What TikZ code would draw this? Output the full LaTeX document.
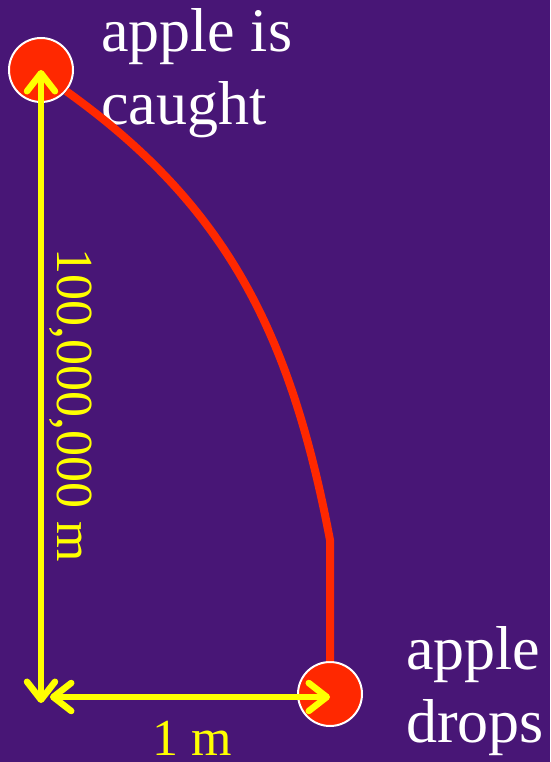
\documentclass[tikz,border=0pt]{standalone}
\usepackage{fontspec}
\setmainfont{Liberation Serif}
\usetikzlibrary{arrows.meta, positioning, calc}
\definecolor{bgpurple}{RGB}{72,22,118}
\definecolor{applered}{RGB}{255,40,0}
\definecolor{dimyellow}{RGB}{255,255,0}

\begin{document}
\begin{tikzpicture}[x=1pt,y=-1pt,
		apple/.style={circle,draw=white,line width=2pt,fill=applered,minimum size=64pt,inner sep=0pt},
		lbl/.style={text=white,align=left,inner sep=0pt,font=\fontsize{62}{73}\selectfont},
		dim/.style={text=dimyellow,inner sep=0pt,font=\fontsize{52}{62}\selectfont},
		arr/.style={{Straight Barb[length=18pt,width=28pt,round]}-{Straight Barb[length=18pt,width=28pt,round]},line width=6.5pt,draw=dimyellow},
		fall/.style={draw=applered,line width=8pt}
	]
	\fill[bgpurple] (0,0) rectangle (550,762);
	\useasboundingbox (0,0) rectangle (550,762);
	\node[apple] (top) at (41,70) {};
	\node[apple] (bot) at (330,694) {};
	\coordinate (bend) at (330,540);
	\coordinate (vend) at (41,703);
	\coordinate (hend) at (50,697);
	% base anchor sits on the last line
	\node[lbl,anchor=base west] (caughtlbl) at (101,125) {apple is\\caught};
	\node[lbl,anchor=base west] (dropslbl) at (406,742) {apple\\drops};
	\node[dim,rotate=-90,anchor=base] (heightlbl) at (57,405) {100,000,000 m};
	\node[dim,anchor=base] (widthlbl) at (192,755) {1 m};
	\draw[fall] (top.-40) .. controls (225,205) and (290,330) .. (bend) -- (bot.north);
	\draw[arr] (top.center) -- (vend);
	\draw[arr] (hend) -- (hend -| bot.center);
\end{tikzpicture}
\end{document}
